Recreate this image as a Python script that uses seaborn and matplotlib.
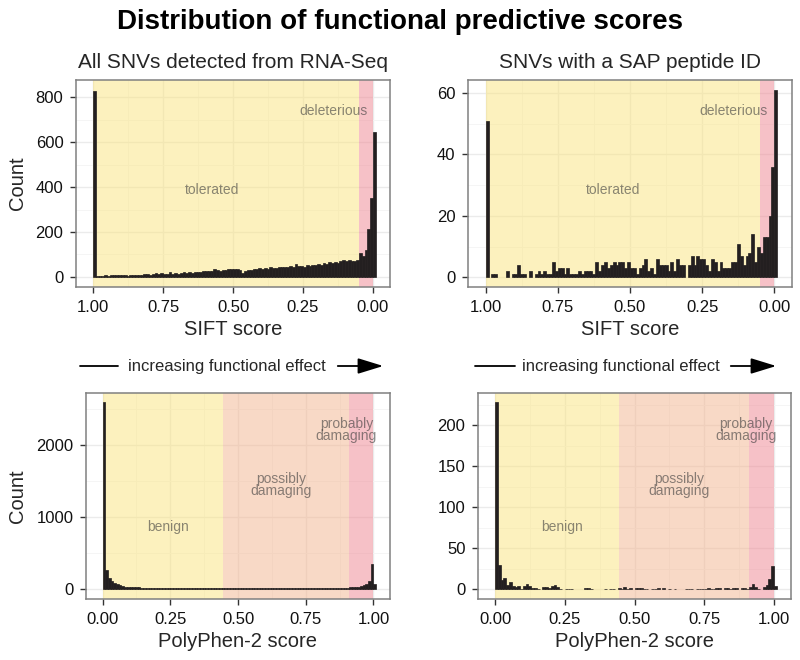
import numpy as np
import pandas as pd
import matplotlib
matplotlib.use("Agg")
import matplotlib.pyplot as plt
from matplotlib.ticker import MultipleLocator
from matplotlib.patches import FancyArrowPatch
from matplotlib.lines import Line2D
import seaborn as sns

# score of each 0.01-wide bin
scores = np.round(np.arange(0, 101) * 0.01, 2)

# SIFT counts, listed from score 1.00 down to 0.00 (left to right on the reversed axis)
sift_all = [829, 4, 6, 5, 7, 6, 8, 7, 9, 10,
            8, 10, 6, 9, 8, 7, 10, 9, 12, 11,
            9, 13, 17, 12, 16, 11, 14, 20, 13, 16,
            12, 18, 22, 16, 20, 19, 21, 24, 22, 26,
            25, 28, 27, 36, 30, 28, 32, 31, 34, 36,
            33, 35, 30, 18, 28, 32, 31, 36, 35, 38,
            36, 40, 37, 42, 39, 41, 44, 42, 45, 43,
            47, 45, 58, 48, 50, 46, 52, 49, 54, 51,
            57, 55, 60, 58, 66, 62, 68, 64, 72, 74,
            71, 75, 73, 70, 76, 107, 92, 120, 213, 352,
            644]
sift_sap = [51, 0, 1, 1, 0, 0, 0, 2, 0, 1,
            1, 4, 1, 1, 0, 2, 0, 1, 2, 1,
            2, 1, 1, 5, 2, 3, 3, 1, 3, 1,
            1, 1, 2, 1, 2, 2, 2, 1, 5, 2,
            4, 5, 3, 4, 5, 4, 5, 5, 3, 5,
            3, 3, 1, 3, 4, 6, 2, 3, 1, 6,
            4, 4, 4, 2, 5, 2, 6, 4, 4, 0,
            4, 7, 4, 7, 6, 6, 4, 2, 6, 5,
            2, 5, 3, 3, 3, 5, 5, 11, 7, 4,
            7, 8, 14, 5, 10, 8, 13, 13, 20, 36,
            61]

# PolyPhen-2 counts, listed from score 0.00 up to 1.00
pph_all = [2590, 263, 160, 115, 88, 68, 55, 45, 38, 33,
           30, 28, 26, 25, 24, 23, 22, 21, 20, 20,
           19, 18, 18, 17, 17, 16, 16, 15, 16, 15,
           15, 14, 15, 14, 14, 13, 14, 13, 14, 13,
           13, 12, 14, 12, 13, 12, 12, 13, 12, 11,
           12, 11, 13, 11, 12, 14, 11, 12, 15, 11,
           12, 11, 13, 12, 11, 12, 13, 11, 12, 13,
           12, 14, 13, 12, 13, 14, 13, 15, 14, 13,
           15, 14, 16, 15, 17, 16, 18, 17, 19, 21,
           23, 25, 28, 32, 36, 44, 58, 78, 112, 356,
           78]
pph_sap = [228, 30, 11, 14, 5, 9, 4, 3, 4, 1,
           4, 6, 4, 2, 2, 1, 0, 3, 3, 2,
           4, 5, 3, 1, 0, 1, 1, 1, 0, 0,
           0, 0, 2, 2, 1, 0, 0, 0, 0, 1,
           0, 1, 1, 0, 2, 1, 3, 1, 2, 0,
           2, 2, 2, 1, 1, 0, 1, 1, 2, 0,
           2, 0, 1, 0, 1, 0, 0, 0, 1, 1,
           1, 0, 1, 1, 1, 1, 2, 1, 1, 2,
           2, 0, 2, 2, 1, 2, 2, 0, 2, 2,
           1, 3, 7, 3, 1, 0, 3, 5, 12, 28,
           4]

# prediction classes: (label, low, high)
sift_classes = [("tolerated", 0.05, 1.0), ("deleterious", 0.0, 0.05)]
pph_classes = [("benign", 0.0, 0.446), ("possibly\ndamaging", 0.446, 0.909),
               ("probably\ndamaging", 0.909, 1.0)]

sns.set_style("white")
plt.rcParams["font.family"] = ["Liberation Sans", "DejaVu Sans"]

W, H = 800, 660
fig = plt.figure(figsize=(W / 100, H / 100), dpi=100)


def px_axes(x0, y0, x1, y1):
    return fig.add_axes([x0 / W, 1 - y1 / H, (x1 - x0) / W, (y1 - y0) / H])


BAR = "#231F20"
TXT = "#3C3C3C"
SIFT_FILL = ["#FAE57E", "#EF8590"]
PPH_FILL = ["#FAE57E", "#F3B58E", "#EF8590"]


def style_axes(ax, yticks, yminor):
    ax.xaxis.set_major_locator(MultipleLocator(0.25))
    ax.xaxis.set_minor_locator(MultipleLocator(0.125))
    ax.set_yticks(yticks)
    ax.yaxis.set_minor_locator(MultipleLocator(yminor))
    ax.grid(which="major", color="#EBEBEB", lw=1.0)
    ax.grid(which="minor", color="#F4F4F4", lw=0.6)
    ax.set_axisbelow(True)
    for sp in ax.spines.values():
        sp.set_color("#808080")
        sp.set_linewidth(1.1)
    ax.tick_params(which="major", direction="out", length=4.5, width=1,
                   color="#333333", labelsize=12, labelcolor="#111111", pad=4.5,
                   bottom=True, left=True)
    ax.tick_params(which="minor", length=0)
    ax.set_xlabel("")
    ax.set_ylabel("")


def draw_hist(ax, df, lo):
    sns.histplot(data=df, x="pos", weights="count", binwidth=0.01,
                 binrange=(lo, lo + 1.01), ax=ax, color=BAR, alpha=1,
                 linewidth=0.5, edgecolor=BAR, zorder=2)
    # empty bins draw nothing
    for p in ax.patches:
        if hasattr(p, "get_height") and p.get_height() == 0:
            p.set_visible(False)


def sift_panel(ax, counts, ylim, yticks, yminor, tol_x):
    # each bin sits just right of its score on the reversed axis
    df = pd.DataFrame({"pos": scores - 0.005, "count": counts[::-1]})
    draw_hist(ax, df, -0.01)
    for (lab, lo, hi), col in zip(sift_classes, SIFT_FILL):
        ax.axvspan(lo, hi, color=col, alpha=0.5, lw=0, zorder=1)
    ax.set_xlim(1.061, -0.061)
    ax.set_ylim(*ylim)
    style_axes(ax, yticks, yminor)
    ax.set_xticks([1.0, 0.75, 0.5, 0.25, 0.0])
    ax.set_xticklabels(["1.00", "0.75", "0.50", "0.25", "0.00"])
    tr = ax.get_xaxis_transform()
    ax.text(tol_x, 0.47, "tolerated", transform=tr, ha="center", va="center",
            fontsize=10, color=TXT, alpha=0.6, zorder=3)
    ax.text(0.14, 0.85, "deleterious", transform=tr, ha="center", va="center",
            fontsize=10, color=TXT, alpha=0.6, zorder=3)
    ax.set_xlabel("SIFT score", fontsize=14.5, labelpad=4)


def pph_panel(ax, counts, ylim, yticks, yminor):
    df = pd.DataFrame({"pos": scores + 0.005, "count": counts})
    draw_hist(ax, df, 0.0)
    for (lab, lo, hi), col in zip(pph_classes, PPH_FILL):
        ax.axvspan(lo, hi, color=col, alpha=0.5, lw=0, zorder=1)
    ax.set_xlim(-0.061, 1.061)
    ax.set_ylim(*ylim)
    style_axes(ax, yticks, yminor)
    ax.set_xticks([0.0, 0.25, 0.5, 0.75, 1.0])
    ax.set_xticklabels(["0.00", "0.25", "0.50", "0.75", "1.00"])
    tr = ax.get_xaxis_transform()
    for (x, y), (lab, lo, hi) in zip([(0.24, 0.35), (0.66, 0.555), (0.9, 0.82)], pph_classes):
        ax.text(x, y, lab, transform=tr, ha="center", va="center", fontsize=10,
                color=TXT, alpha=0.6, linespacing=0.8, zorder=3)
    ax.set_xlabel("PolyPhen-2 score", fontsize=14.5, labelpad=4)


ax1 = px_axes(76, 80, 390, 287)
sift_panel(ax1, sift_all, (-45, 877), [0, 200, 400, 600, 800], 100, 0.575)
ax2 = px_axes(468, 80, 792, 287)
sift_panel(ax2, sift_sap, (-3.1, 64.2), [0, 20, 40, 60], 10, 0.56)
ax3 = px_axes(86, 393, 390, 599)
pph_panel(ax3, pph_all, (-135, 2720), [0, 1000, 2000], 500)
ax4 = px_axes(478, 393, 791, 599)
pph_panel(ax4, pph_sap, (-11.8, 239.4), [0, 50, 100, 150, 200], 25)

# titles
fig.text(0.5, 1 - 22 / H, "Distribution of functional predictive scores",
         ha="center", va="center", fontsize=20, fontweight="bold", color="black")
fig.text(233 / W, 1 - 62 / H, "All SNVs detected from RNA-Seq", ha="center",
         va="center", fontsize=15)
fig.text(630 / W, 1 - 62 / H, "SNVs with a SAP peptide ID", ha="center",
         va="center", fontsize=15)
fig.text(18 / W, 1 - 183 / H, "Count", rotation=90, ha="center", va="center", fontsize=14.5)
fig.text(18 / W, 1 - 496 / H, "Count", rotation=90, ha="center", va="center", fontsize=14.5)

# "increasing functional effect" arrows
for x_line0, x_line1, x_txt, x_arr0, x_arr1 in [(80, 118, 227, 335, 386), (475, 515, 621, 728, 779)]:
    y = 1 - 366 / H
    fig.add_artist(Line2D([x_line0 / W, x_line1 / W], [y, y], color="black", lw=1.3,
                          transform=fig.transFigure))
    fig.text(x_txt / W, y, "increasing functional effect", ha="center", va="center",
             fontsize=12)
    fig.add_artist(FancyArrowPatch((x_arr0 / W, y), (x_arr1 / W, y), transform=fig.transFigure,
                                   arrowstyle="-|>,head_length=1.3,head_width=0.4",
                                   mutation_scale=12, color="black", lw=1.3))

fig.savefig("out.png", dpi=100)
